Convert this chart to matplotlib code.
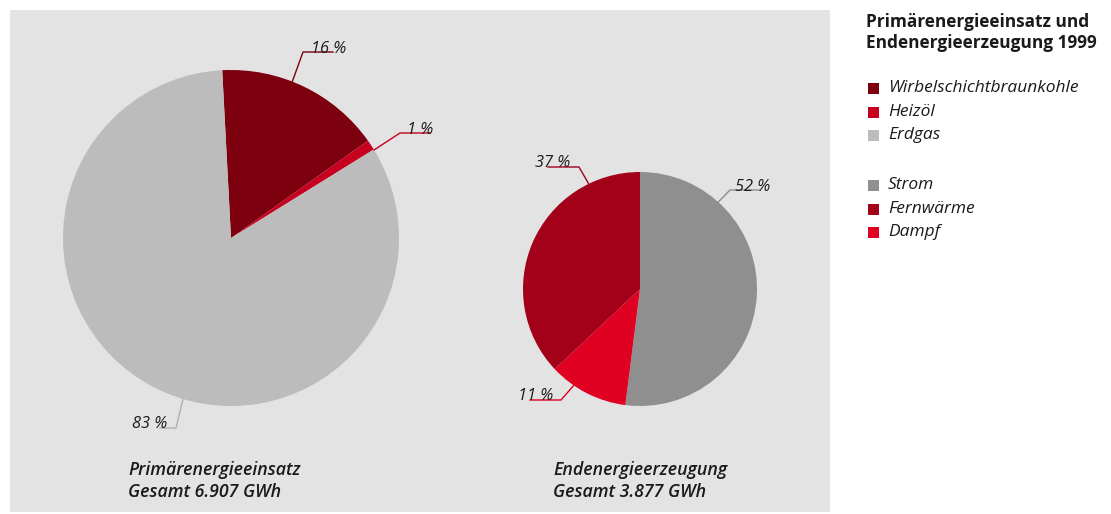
import numpy as np
import matplotlib
matplotlib.use("Agg")
import matplotlib.pyplot as plt
from matplotlib.patches import Rectangle

W, H = 1111, 514

# data
prim_labels = ['Wirbelschichtbraunkohle', 'Heizöl', 'Erdgas']
prim_values = [16, 1, 83]
prim_colors = ['#7d000f', '#c8001f', '#bcbcbc']

end_labels = ['Strom', 'Fernwärme', 'Dampf']
end_values = [52, 37, 11]
end_colors = ['#8f8f8f', '#a30019', '#e00022']
end_order = [0, 2, 1]  # drawing order clockwise: Strom, Dampf, Fernwärme

prim_total = 'Gesamt 6.907 GWh'
end_total = 'Gesamt 3.877 GWh'

plt.rcParams['font.family'] = ['Open Sans', 'DejaVu Sans']

fig = plt.figure(figsize=(W / 100, H / 100), dpi=100)
fig.patch.set_facecolor('white')


def fx(x):
    return x / W


def fy(y):
    return 1 - y / H


fig.patches.append(Rectangle((fx(10), fy(512)), fx(830) - fx(10), fy(10) - fy(512),
                             transform=fig.transFigure, facecolor='#e3e3e3',
                             edgecolor='none', zorder=-5))


def pie_axes(cx, cy, r):
    ax = fig.add_axes([fx(cx - r), fy(cy + r), 2 * r / W, 2 * r / H])
    ax.set_xlim(-1, 1)
    ax.set_ylim(-1, 1)
    ax.axis('off')
    ax.patch.set_alpha(0)
    ax.set_zorder(1)
    return ax


ax1 = pie_axes(231, 238, 168)
ax1.pie(prim_values, colors=prim_colors, startangle=93, counterclock=False,
        radius=1, center=(0, 0), frame=False)
ax1.set_xlim(-1, 1)
ax1.set_ylim(-1, 1)

ax2 = pie_axes(640, 289, 117)
ax2.pie([end_values[i] for i in end_order], colors=[end_colors[i] for i in end_order],
        startangle=90, counterclock=False, radius=1, center=(0, 0), frame=False)
ax2.set_xlim(-1, 1)
ax2.set_ylim(-1, 1)


def leader(ax, ang, elbow, end, color, text, tx, ty):
    a = np.deg2rad(ang)
    p = ax.transData.transform((np.cos(a), np.sin(a)))
    p = fig.transFigure.inverted().transform(p)
    xs = [p[0], fx(elbow[0]), fx(end[0])]
    ys = [p[1], fy(elbow[1]), fy(end[1])]
    fig.add_artist(plt.Line2D(xs, ys, color=color, lw=1.0, transform=fig.transFigure, zorder=3))
    fig.text(fx(tx), fy(ty), text, fontsize=11.8, style='italic', color='#1a1a1a',
             ha='left', va='baseline', zorder=4)


leader(ax1, 68.6, (303, 52), (333, 52), prim_colors[0], f'{prim_values[0]} %', 311, 53)
leader(ax1, 31.6, (400, 133), (430, 133), prim_colors[1], f'{prim_values[1]} %', 407, 134)
leader(ax1, -106.6, (176, 428), (160, 428), '#b0b0b0', f'{prim_values[2]} %', 132, 428)

leader(ax2, 48, (730, 190), (760, 190), '#8f8f8f', f'{end_values[0]} %', 735, 191)
leader(ax2, 116, (579, 167), (548, 167), end_colors[1], f'{end_values[1]} %', 535, 167)
leader(ax2, -124.5, (561, 400), (530, 400), end_colors[2], f'{end_values[2]} %', 518, 400)

# captions under the pies
cap_kw = dict(fontsize=12.8, style='italic', fontweight='semibold', color='#1a1a1a',
              ha='left', va='baseline', linespacing=1.3)
fig.text(fx(128), fy(497), 'Primärenergieeinsatz\n' + prim_total, **cap_kw)
fig.text(fx(553), fy(497), 'Endenergieerzeugung\n' + end_total, **cap_kw)

# title + legend on the right
fig.text(fx(866), fy(48), 'Primärenergieeinsatz und\nEndenergieerzeugung 1999',
         fontsize=12.4, fontweight='bold', color='#1a1a1a', ha='left', va='baseline',
         linespacing=1.2)

rows = [(prim_labels[i], prim_colors[i]) for i in range(3)]
ys = [88, 112, 135]
rows2 = [(end_labels[i], end_colors[i]) for i in range(3)]
ys2 = [185, 209, 232]
for (lab, col), y in list(zip(rows, ys)) + list(zip(rows2, ys2)):
    fig.patches.append(Rectangle((fx(868), fy(y + 6)), 11 / W, 11 / H,
                                 transform=fig.transFigure, facecolor=col,
                                 edgecolor='none'))
    fig.text(fx(888), fy(y), lab, fontsize=12.5, style='italic', color='#1a1a1a',
             ha='left', va='center')

fig.savefig('out.png', dpi=100)
